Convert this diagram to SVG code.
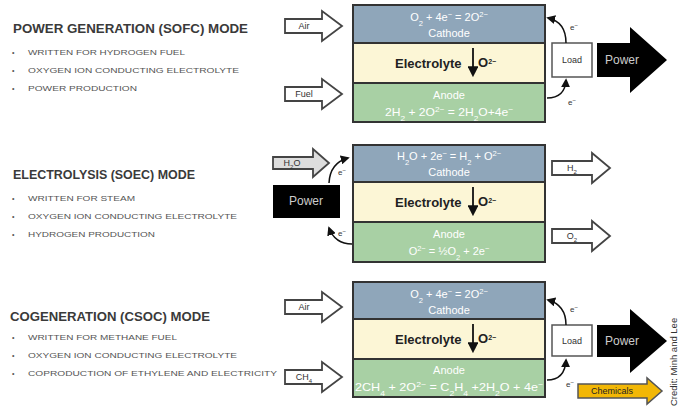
<svg xmlns="http://www.w3.org/2000/svg" width="680" height="408" viewBox="0 0 680 408">
<defs>
<marker id="ah" viewBox="0 0 10 10" refX="8" refY="5" markerWidth="6" markerHeight="6" orient="auto-start-reverse"><path d="M0,0 L10,5 L0,10 z" fill="#111"/></marker>
<style>
text{font-family:"Liberation Sans",Arial,sans-serif}
.title{font-size:13px;font-weight:bold;fill:#3a3a3a}
.bul{font-size:7px;fill:#555}
.cat{fill:#8fa6ba;stroke:#333;stroke-width:2}
.ele{fill:#fcf6d6;stroke:#333;stroke-width:2}
.ano{fill:#a8d0a4;stroke:#333;stroke-width:2}
.wt{font-size:11px;fill:#fff;text-anchor:middle}
.et{font-size:13px;font-weight:bold;fill:#222}
.inarr{fill:#fff;stroke:#444;stroke-width:1.8}
.lbl{font-size:9px;fill:#333;text-anchor:middle}
.blk{fill:#000}
.pw{font-size:12px;fill:#ccc;text-anchor:middle}
.eline{fill:none;stroke:#111;stroke-width:1.5;marker-end:url(#ah)}
.el{font-size:8px;fill:#333}
.load{fill:#fff;stroke:#555;stroke-width:1.5}
</style>
</defs>
<rect width="680" height="408" fill="#fff"/>

<g id="text-sofc">
<text class="title" x="13" y="33" textLength="235" lengthAdjust="spacingAndGlyphs">POWER GENERATION (SOFC) MODE</text>
<text class="bul" x="12" y="55">•</text><text class="bul" x="28" y="55" textLength="157" lengthAdjust="spacingAndGlyphs">WRITTEN FOR HYDROGEN FUEL</text>
<text class="bul" x="12" y="73">•</text><text class="bul" x="28" y="73" textLength="211" lengthAdjust="spacingAndGlyphs">OXYGEN ION CONDUCTING ELECTROLYTE</text>
<text class="bul" x="12" y="91">•</text><text class="bul" x="28" y="91" textLength="109" lengthAdjust="spacingAndGlyphs">POWER PRODUCTION</text>
</g>
<g id="text-soec">
<text class="title" x="13" y="179" textLength="182" lengthAdjust="spacingAndGlyphs">ELECTROLYSIS (SOEC) MODE</text>
<text class="bul" x="12" y="201">•</text><text class="bul" x="28" y="201" textLength="107" lengthAdjust="spacingAndGlyphs">WRITTEN FOR STEAM</text>
<text class="bul" x="12" y="219">•</text><text class="bul" x="28" y="219" textLength="209" lengthAdjust="spacingAndGlyphs">OXYGEN ION CONDUCTING ELECTROLYTE</text>
<text class="bul" x="12" y="237">•</text><text class="bul" x="28" y="237" textLength="127" lengthAdjust="spacingAndGlyphs">HYDROGEN PRODUCTION</text>
</g>
<g id="text-csoc">
<text class="title" x="10" y="321" textLength="200" lengthAdjust="spacingAndGlyphs">COGENERATION (CSOC) MODE</text>
<text class="bul" x="12" y="340">•</text><text class="bul" x="28" y="340" textLength="149" lengthAdjust="spacingAndGlyphs">WRITTEN FOR METHANE FUEL</text>
<text class="bul" x="12" y="358">•</text><text class="bul" x="28" y="358" textLength="209" lengthAdjust="spacingAndGlyphs">OXYGEN ION CONDUCTING ELECTROLYTE</text>
<text class="bul" x="12" y="376">•</text><text class="bul" x="28" y="376" textLength="249" lengthAdjust="spacingAndGlyphs">COPRODUCTION OF ETHYLENE AND ELECTRICITY</text>
</g>

<g id="stack1">
<rect class="cat" x="353" y="5" width="192" height="38"/>
<rect class="ele" x="353" y="43" width="192" height="40"/>
<rect class="ano" x="353" y="83" width="192" height="39"/>
<text class="wt" x="449" y="21">O<tspan font-size="7.5" baseline-shift="sub">2</tspan> + 4e<tspan font-size="7.5" baseline-shift="super">−</tspan> = 2O<tspan font-size="7.5" baseline-shift="super">2−</tspan></text>
<text class="wt" x="449" y="37">Cathode</text>
<text class="et" x="395" y="68">Electrolyte</text>
<line x1="473" y1="48" x2="473" y2="75" stroke="#111" stroke-width="1.8" marker-end="url(#ah)"/>
<text class="et" x="478" y="67" font-size="11">O<tspan font-size="7" baseline-shift="super">2−</tspan></text>
<text class="wt" x="449" y="99">Anode</text>
<text class="wt" x="449" y="116" textLength="128" lengthAdjust="spacingAndGlyphs">2H<tspan font-size="7.5" baseline-shift="sub">2</tspan> + 2O<tspan font-size="7.5" baseline-shift="super">2−</tspan> = 2H<tspan font-size="7.5" baseline-shift="sub">2</tspan>O+4e<tspan font-size="7.5" baseline-shift="super">−</tspan></text>
</g>

<g id="stack2">
<rect class="cat" x="353" y="145" width="192" height="37"/>
<rect class="ele" x="353" y="182" width="192" height="40"/>
<rect class="ano" x="353" y="222" width="192" height="40"/>
<text class="wt" x="449" y="160">H<tspan font-size="7.5" baseline-shift="sub">2</tspan>O + 2e<tspan font-size="7.5" baseline-shift="super">−</tspan> = H<tspan font-size="7.5" baseline-shift="sub">2</tspan> + O<tspan font-size="7.5" baseline-shift="super">2−</tspan></text>
<text class="wt" x="449" y="176">Cathode</text>
<text class="et" x="395" y="207">Electrolyte</text>
<line x1="473" y1="187" x2="473" y2="214" stroke="#111" stroke-width="1.8" marker-end="url(#ah)"/>
<text class="et" x="478" y="206" font-size="11">O<tspan font-size="7" baseline-shift="super">2−</tspan></text>
<text class="wt" x="449" y="238">Anode</text>
<text class="wt" x="449" y="255">O<tspan font-size="7.5" baseline-shift="super">2−</tspan> = ½O<tspan font-size="7.5" baseline-shift="sub">2</tspan> + 2e<tspan font-size="7.5" baseline-shift="super">−</tspan></text>
</g>

<g id="stack3">
<rect class="cat" x="353" y="282" width="192" height="37"/>
<rect class="ele" x="353" y="319" width="192" height="40"/>
<rect class="ano" x="353" y="359" width="192" height="38"/>
<text class="wt" x="449" y="298">O<tspan font-size="7.5" baseline-shift="sub">2</tspan> + 4e<tspan font-size="7.5" baseline-shift="super">−</tspan> = 2O<tspan font-size="7.5" baseline-shift="super">2−</tspan></text>
<text class="wt" x="449" y="314">Cathode</text>
<text class="et" x="395" y="344">Electrolyte</text>
<line x1="473" y1="324" x2="473" y2="351" stroke="#111" stroke-width="1.8" marker-end="url(#ah)"/>
<text class="et" x="478" y="343" font-size="11">O<tspan font-size="7" baseline-shift="super">2−</tspan></text>
<text class="wt" x="449" y="374">Anode</text>
<text class="wt" x="449" y="391" textLength="188" lengthAdjust="spacingAndGlyphs">2CH<tspan font-size="7.5" baseline-shift="sub">4</tspan> + 2O<tspan font-size="7.5" baseline-shift="super">2−</tspan> = C<tspan font-size="7.5" baseline-shift="sub">2</tspan>H<tspan font-size="7.5" baseline-shift="sub">4</tspan> +2H<tspan font-size="7.5" baseline-shift="sub">2</tspan>O + 4e<tspan font-size="7.5" baseline-shift="super">−</tspan></text>
</g>

<g id="air1"><polygon class="inarr" points="285,19 322,19 322,11 342,26 322,41 322,33 285,33"/><text class="lbl" x="304" y="29">Air</text></g>
<g id="fuel1"><polygon class="inarr" points="285,87 322,87 322,79 342,94 322,109 322,101 285,101"/><text class="lbl" x="304" y="97">Fuel</text></g>
<g id="load1"><rect class="load" x="552" y="43" width="40" height="34"/><text class="lbl" x="572" y="63">Load</text></g>
<g id="power1"><polygon class="blk" points="597,43 630,43 630,27 667,60 630,93 630,77 597,77"/><text class="pw" x="622" y="64">Power</text></g>

<g id="h2o2"><polygon class="inarr" style="fill:#ddd" points="273,157 313,157 313,149 329,163 313,177 313,169 273,169"/><text class="lbl" x="292" y="166">H<tspan font-size="6" baseline-shift="sub">2</tspan>O</text></g>
<g id="power2"><rect class="blk" x="273" y="185" width="67" height="33"/><text class="pw" x="306" y="205">Power</text></g>
<g id="h2out"><polygon class="inarr" points="552,161 592,161 592,153 610,168 592,183 592,175 552,175"/><text class="lbl" x="572" y="171">H<tspan font-size="6" baseline-shift="sub">2</tspan></text></g>
<g id="o2out"><polygon class="inarr" points="552,229 592,229 592,221 610,236 592,251 592,243 552,243"/><text class="lbl" x="572" y="239">O<tspan font-size="6" baseline-shift="sub">2</tspan></text></g>

<g id="air3"><polygon class="inarr" points="285,300 322,300 322,292 342,307 322,322 322,314 285,314"/><text class="lbl" x="304" y="310">Air</text></g>
<g id="ch43"><polygon class="inarr" points="285,370 322,370 322,362 342,377 322,392 322,384 285,384"/><text class="lbl" x="304" y="380">CH<tspan font-size="6" baseline-shift="sub">4</tspan></text></g>
<g id="load3"><rect class="load" x="552" y="325" width="40" height="31"/><text class="lbl" x="572" y="344">Load</text></g>
<g id="power3"><polygon class="blk" points="597,325 630,325 630,309 667,341 630,373 630,357 597,357"/><text class="pw" x="622" y="345">Power</text></g>
<g id="chem3"><polygon points="578,384 647,384 647,378 662,391 647,404 647,398 578,398" fill="#f2b705" stroke="#555" stroke-width="1.5"/><text class="lbl" x="612" y="394" style="fill:#222">Chemicals</text></g>

<g id="connectors">
<path class="eline" d="M566,43 Q566,22 548,18"/>
<path class="eline" d="M547,98 Q565,98 566,80"/>
<path class="eline" d="M329,183 Q330,163 348,158"/>
<path class="eline" d="M352,244 Q335,244 329,228"/>
<path class="eline" d="M566,325 Q566,305 548,300"/>
<path class="eline" d="M547,380 Q565,380 566,360"/>
<text class="el" x="570" y="30">e<tspan font-size="6" baseline-shift="super">−</tspan></text>
<text class="el" x="568" y="105">e<tspan font-size="6" baseline-shift="super">−</tspan></text>
<text class="el" x="338" y="175">e<tspan font-size="6" baseline-shift="super">−</tspan></text>
<text class="el" x="338" y="236">e<tspan font-size="6" baseline-shift="super">−</tspan></text>
<text class="el" x="570" y="312">e<tspan font-size="6" baseline-shift="super">−</tspan></text>
<text class="el" x="566" y="387">e<tspan font-size="6" baseline-shift="super">−</tspan></text>
</g>

<text x="677" y="406" font-size="9.5" fill="#333" transform="rotate(-90 677 406)">Credit: Minh and Lee</text>
</svg>
